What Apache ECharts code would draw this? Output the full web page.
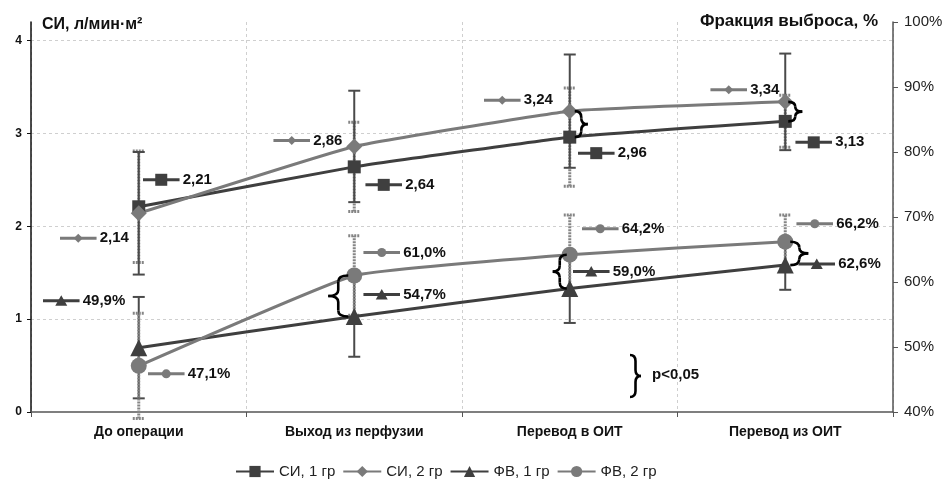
<!DOCTYPE html>
<html><head><meta charset="utf-8">
<script src="https://cdn.jsdelivr.net/npm/echarts@6/dist/echarts.min.js"></script>
<style>html,body{margin:0;padding:0;background:#fff}#c{width:947px;height:484px}</style>
</head><body><div id="c"></div>
<script>
// ---- data ----
var categories = ['До операции', 'Выход из перфузии', 'Перевод в ОИТ', 'Перевод из ОИТ'];
var si1 = [2.21, 2.64, 2.96, 3.13];
var si2 = [2.14, 2.86, 3.24, 3.34];
var fv1 = [49.9, 54.7, 59.0, 62.6];
var fv2 = [47.1, 61.0, 64.2, 66.2];
var si1Err = [0.60, 0.48, 0.53, 0.28];
var si2Err = [0.66, 0.60, 0.61, 0.52];
var fv1Err = [7.8, 6.2, 5.3, 3.8];
var fv2Err = [8.1, 6.1, 6.1, 4.1];
var leftTicks = [0, 1, 2, 3, 4];
var rightTicks = [40, 50, 60, 70, 80, 90, 100];
// significance braces: [category index, value a, value b]
var siBraces = [[2, 2.96, 3.24], [3, 3.13, 3.34]];
var fvBraces = [[1, 54.7, 61.0], [2, 59.0, 64.2], [3, 62.6, 66.2]];

// ---- layout (label offsets from points, brace sides) ----
var offSi1 = [[4, -27], [11, 18], [8, 16], [10, 21]];
var offSi2 = [[-79, 25], [-81, -6], [-86, -11], [-75, -12]];
var offFv1 = [[-96, -47], [9, -22], [3, -17], [13, -1]];
var offFv2 = [[9, 8], [9, -23], [12, -26], [11, -18]];
var siBraceSide = [[5, 13, 'R'], [3, 14, 'R']];
var fvBraceSide = [[-26, 20, 'L'], [-17, 14, 'L'], [5, 18, 'R']];

var DARK = '#3f3f3f', GRAY = '#7a7a7a';

function keySVG(color, shape) {
  var m = '';
  if (shape === 'rect') m = '<rect x="12.5" y="1.5" width="12" height="12" fill="' + color + '"/>';
  if (shape === 'diamond') m = '<polygon points="18.5,3 23,7.5 18.5,12 14,7.5" fill="' + color + '"/>';
  if (shape === 'triangle') m = '<polygon points="18.5,2 24.5,12.5 12.5,12.5" fill="' + color + '"/>';
  if (shape === 'circle') m = '<circle cx="18.5" cy="7.5" r="4.5" fill="' + color + '"/>';
  var svg = '<svg xmlns="http://www.w3.org/2000/svg" width="37" height="15"><line x1="0" y1="7.5" x2="37" y2="7.5" stroke="' + color + '" stroke-width="3"/>' + m + '</svg>';
  return 'data:image/svg+xml;charset=utf-8,' + encodeURIComponent(svg);
}
function loadImg(src) {
  return new Promise(function (res) { var i = new Image(); i.onload = function () { res(i); }; i.onerror = function () { res(i); }; i.src = src; });
}

function fmtSi(v) { return v.toFixed(2).replace('.', ','); }
function fmtFv(v) { return v.toFixed(1).replace('.', ',') + '%'; }

function buildData(vals, offs) {
  return vals.map(function (v, i) { return { value: v, label: { offset: offs[i] } }; });
}
function errData(vals, errs) {
  return vals.map(function (v, i) { return [i, v - errs[i], v + errs[i]]; });
}
function errRender(style) {
  return function (params, api) {
    var x = api.value(0);
    var a = api.coord([x, api.value(1)]), b = api.coord([x, api.value(2)]);
    var w = 6;
    return { type: 'group', children: [
      { type: 'line', shape: { x1: a[0], y1: a[1], x2: b[0], y2: b[1] }, style: style },
      { type: 'line', shape: { x1: a[0] - w, y1: a[1], x2: a[0] + w, y2: a[1] }, style: style },
      { type: 'line', shape: { x1: b[0] - w, y1: b[1], x2: b[0] + w, y2: b[1] }, style: style }
    ] };
  };
}
function braceParts(x0, w, y1, y2, left) {
  var top = Math.min(y1, y2), bot = Math.max(y1, y2), mid = (top + bot) / 2;
  var r = Math.min(6, (bot - top) / 4);
  var s = left ? -1 : 1;
  var xs = left ? x0 + w : x0;
  var xm = xs + s * w * 0.5;
  var xt = xs + s * w;
  var st = { fill: 'none', stroke: '#000', lineWidth: 2.6 };
  return [
    { type: 'bezierCurve', shape: { x1: xs, y1: top, cpx1: xm, cpy1: top, x2: xm, y2: top + r }, style: st },
    { type: 'line', shape: { x1: xm, y1: top + r, x2: xm, y2: mid - r }, style: st },
    { type: 'bezierCurve', shape: { x1: xm, y1: mid - r, cpx1: xm, cpy1: mid, x2: xt, y2: mid }, style: st },
    { type: 'bezierCurve', shape: { x1: xt, y1: mid, cpx1: xm, cpy1: mid, x2: xm, y2: mid + r }, style: st },
    { type: 'line', shape: { x1: xm, y1: mid + r, x2: xm, y2: bot - r }, style: st },
    { type: 'bezierCurve', shape: { x1: xm, y1: bot - r, cpx1: xm, cpy1: bot, x2: xs, y2: bot }, style: st }
  ];
}
function braceRender(sides) {
  return function (params, api) {
    var i = params.dataIndex, x = api.value(0);
    var a = api.coord([x, api.value(1)]), b = api.coord([x, api.value(2)]);
    var sd = sides[i];
    return { type: 'group', children: braceParts(a[0] + sd[0], sd[1], a[1], b[1], sd[2] === 'L') };
  };
}

Promise.all([
  loadImg(keySVG(DARK, 'rect')), loadImg(keySVG(GRAY, 'diamond')),
  loadImg(keySVG(DARK, 'triangle')), loadImg(keySVG(GRAY, 'circle'))
]).then(function (imgs) {
  var chart = echarts.init(document.getElementById('c'), null, { renderer: 'canvas' });
  function lbl(img, fmt) {
    return {
      show: true, position: 'inside', align: 'left', verticalAlign: 'middle',
      formatter: function (p) { return '{k|}{t|' + fmt(p.value) + '}'; },
      rich: {
        k: { width: 37, height: 15, backgroundColor: { image: img } },
        t: { fontSize: 15, fontWeight: 'bold', color: '#111', fontFamily: 'Liberation Sans, Arial', padding: [0, 0, 0, 3] }
      }
    };
  }
  var axisFont = 'Liberation Sans, Arial';
  var hatch = { stroke: '#858585', lineWidth: 3, lineDash: [2, 1] };
  var solid = { stroke: '#4a4a4a', lineWidth: 2 };
  var option = {
    animation: false,
    backgroundColor: '#fff',
    grid: { left: 31, right: 54, top: 22, bottom: 72 },
    legend: {
      left: 230, top: 459, itemWidth: 38, itemHeight: 14, itemGap: 7,
      textStyle: { fontSize: 15, color: '#222', fontFamily: axisFont },
      data: ['СИ, 1 гр', 'СИ, 2 гр', 'ФВ, 1 гр', 'ФВ, 2 гр']
    },
    xAxis: {
      type: 'category', data: categories, boundaryGap: true,
      axisLine: { lineStyle: { color: '#555', width: 1.5 } },
      axisTick: { show: true, length: 5, lineStyle: { color: '#555' } },
      axisLabel: { fontSize: 14, fontWeight: 'bold', color: '#111', margin: 13, fontFamily: axisFont },
      splitLine: { show: true, lineStyle: { color: '#cfcfcf', type: [3, 3] } }
    },
    yAxis: [
      {
        type: 'value', min: leftTicks[0], max: 4.2, interval: 1,
        axisLine: { show: true, lineStyle: { color: '#111', width: 1.5 } },
        axisTick: { show: true, length: 4, lineStyle: { color: '#111' } },
        axisLabel: { showMaxLabel: false, fontSize: 12, fontWeight: 'bold', color: '#111', margin: 9, fontFamily: axisFont },
        splitLine: { show: true, showMaxLine: false, showMinLine: false, lineStyle: { color: '#cfcfcf', type: [3, 3] } }
      },
      {
        type: 'value', min: rightTicks[0], max: rightTicks[rightTicks.length - 1], interval: 10, position: 'right',
        axisLine: { show: true, lineStyle: { color: '#555', width: 1.5 } },
        axisTick: { show: true, length: 5, lineStyle: { color: '#555' } },
        axisLabel: { formatter: '{value}%', fontSize: 15, color: '#222', margin: 11, fontFamily: axisFont },
        splitLine: { show: false }
      }
    ],
    graphic: [
      { type: 'text', x: 42, y: 17, style: { text: 'СИ, л/мин·м²', font: 'bold 16px Liberation Sans, Arial', fill: '#111' } },
      { type: 'text', x: 878, y: 13, style: { text: 'Фракция выброса, %', font: 'bold 17px Liberation Sans, Arial', fill: '#111', align: 'right' } },
      { type: 'group', children: braceParts(630, 11, 355, 397, false) },
      { type: 'text', x: 652, y: 367, style: { text: 'p<0,05', font: 'bold 15px Liberation Sans, Arial', fill: '#111' } }
    ],
    series: [
      { type: 'custom', name: 'errSi1', yAxisIndex: 0, z: 1, silent: true, encode: { x: 0, y: [1, 2] },
        renderItem: errRender(hatch), data: errData(si1, si1Err) },
      { type: 'custom', name: 'errSi2', yAxisIndex: 0, z: 1, silent: true, encode: { x: 0, y: [1, 2] },
        renderItem: errRender(solid), data: errData(si2, si2Err) },
      { type: 'custom', name: 'errFv1', yAxisIndex: 1, z: 1, silent: true, encode: { x: 0, y: [1, 2] },
        renderItem: errRender(solid), data: errData(fv1, fv1Err) },
      { type: 'custom', name: 'errFv2', yAxisIndex: 1, z: 1, silent: true, encode: { x: 0, y: [1, 2] },
        renderItem: errRender(hatch), data: errData(fv2, fv2Err) },
      { name: 'СИ, 1 гр', type: 'line', yAxisIndex: 0, z: 3, smooth: 0.1, symbol: 'rect', symbolSize: 13,
        itemStyle: { color: DARK }, lineStyle: { color: DARK, width: 3 }, label: lbl(imgs[0], fmtSi), data: buildData(si1, offSi1) },
      { name: 'СИ, 2 гр', type: 'line', yAxisIndex: 0, z: 3, smooth: 0.1, symbol: 'diamond', symbolSize: 16,
        itemStyle: { color: GRAY }, lineStyle: { color: GRAY, width: 3 }, label: lbl(imgs[1], fmtSi), data: buildData(si2, offSi2) },
      { name: 'ФВ, 1 гр', type: 'line', yAxisIndex: 1, z: 3, smooth: 0.1, symbol: 'triangle', symbolSize: 17,
        itemStyle: { color: DARK }, lineStyle: { color: DARK, width: 3 }, label: lbl(imgs[2], fmtFv), data: buildData(fv1, offFv1) },
      { name: 'ФВ, 2 гр', type: 'line', yAxisIndex: 1, z: 3, smooth: 0.1, symbol: 'circle', symbolSize: 16,
        itemStyle: { color: GRAY }, lineStyle: { color: GRAY, width: 3 }, label: lbl(imgs[3], fmtFv), data: buildData(fv2, offFv2) },
      { type: 'custom', name: 'brSi', yAxisIndex: 0, z: 4, silent: true, encode: { x: 0, y: [1, 2] },
        renderItem: braceRender(siBraceSide), data: siBraces },
      { type: 'custom', name: 'brFv', yAxisIndex: 1, z: 4, silent: true, encode: { x: 0, y: [1, 2] },
        renderItem: braceRender(fvBraceSide), data: fvBraces }
    ]
  };
  chart.setOption(option);
});
</script></body></html>
